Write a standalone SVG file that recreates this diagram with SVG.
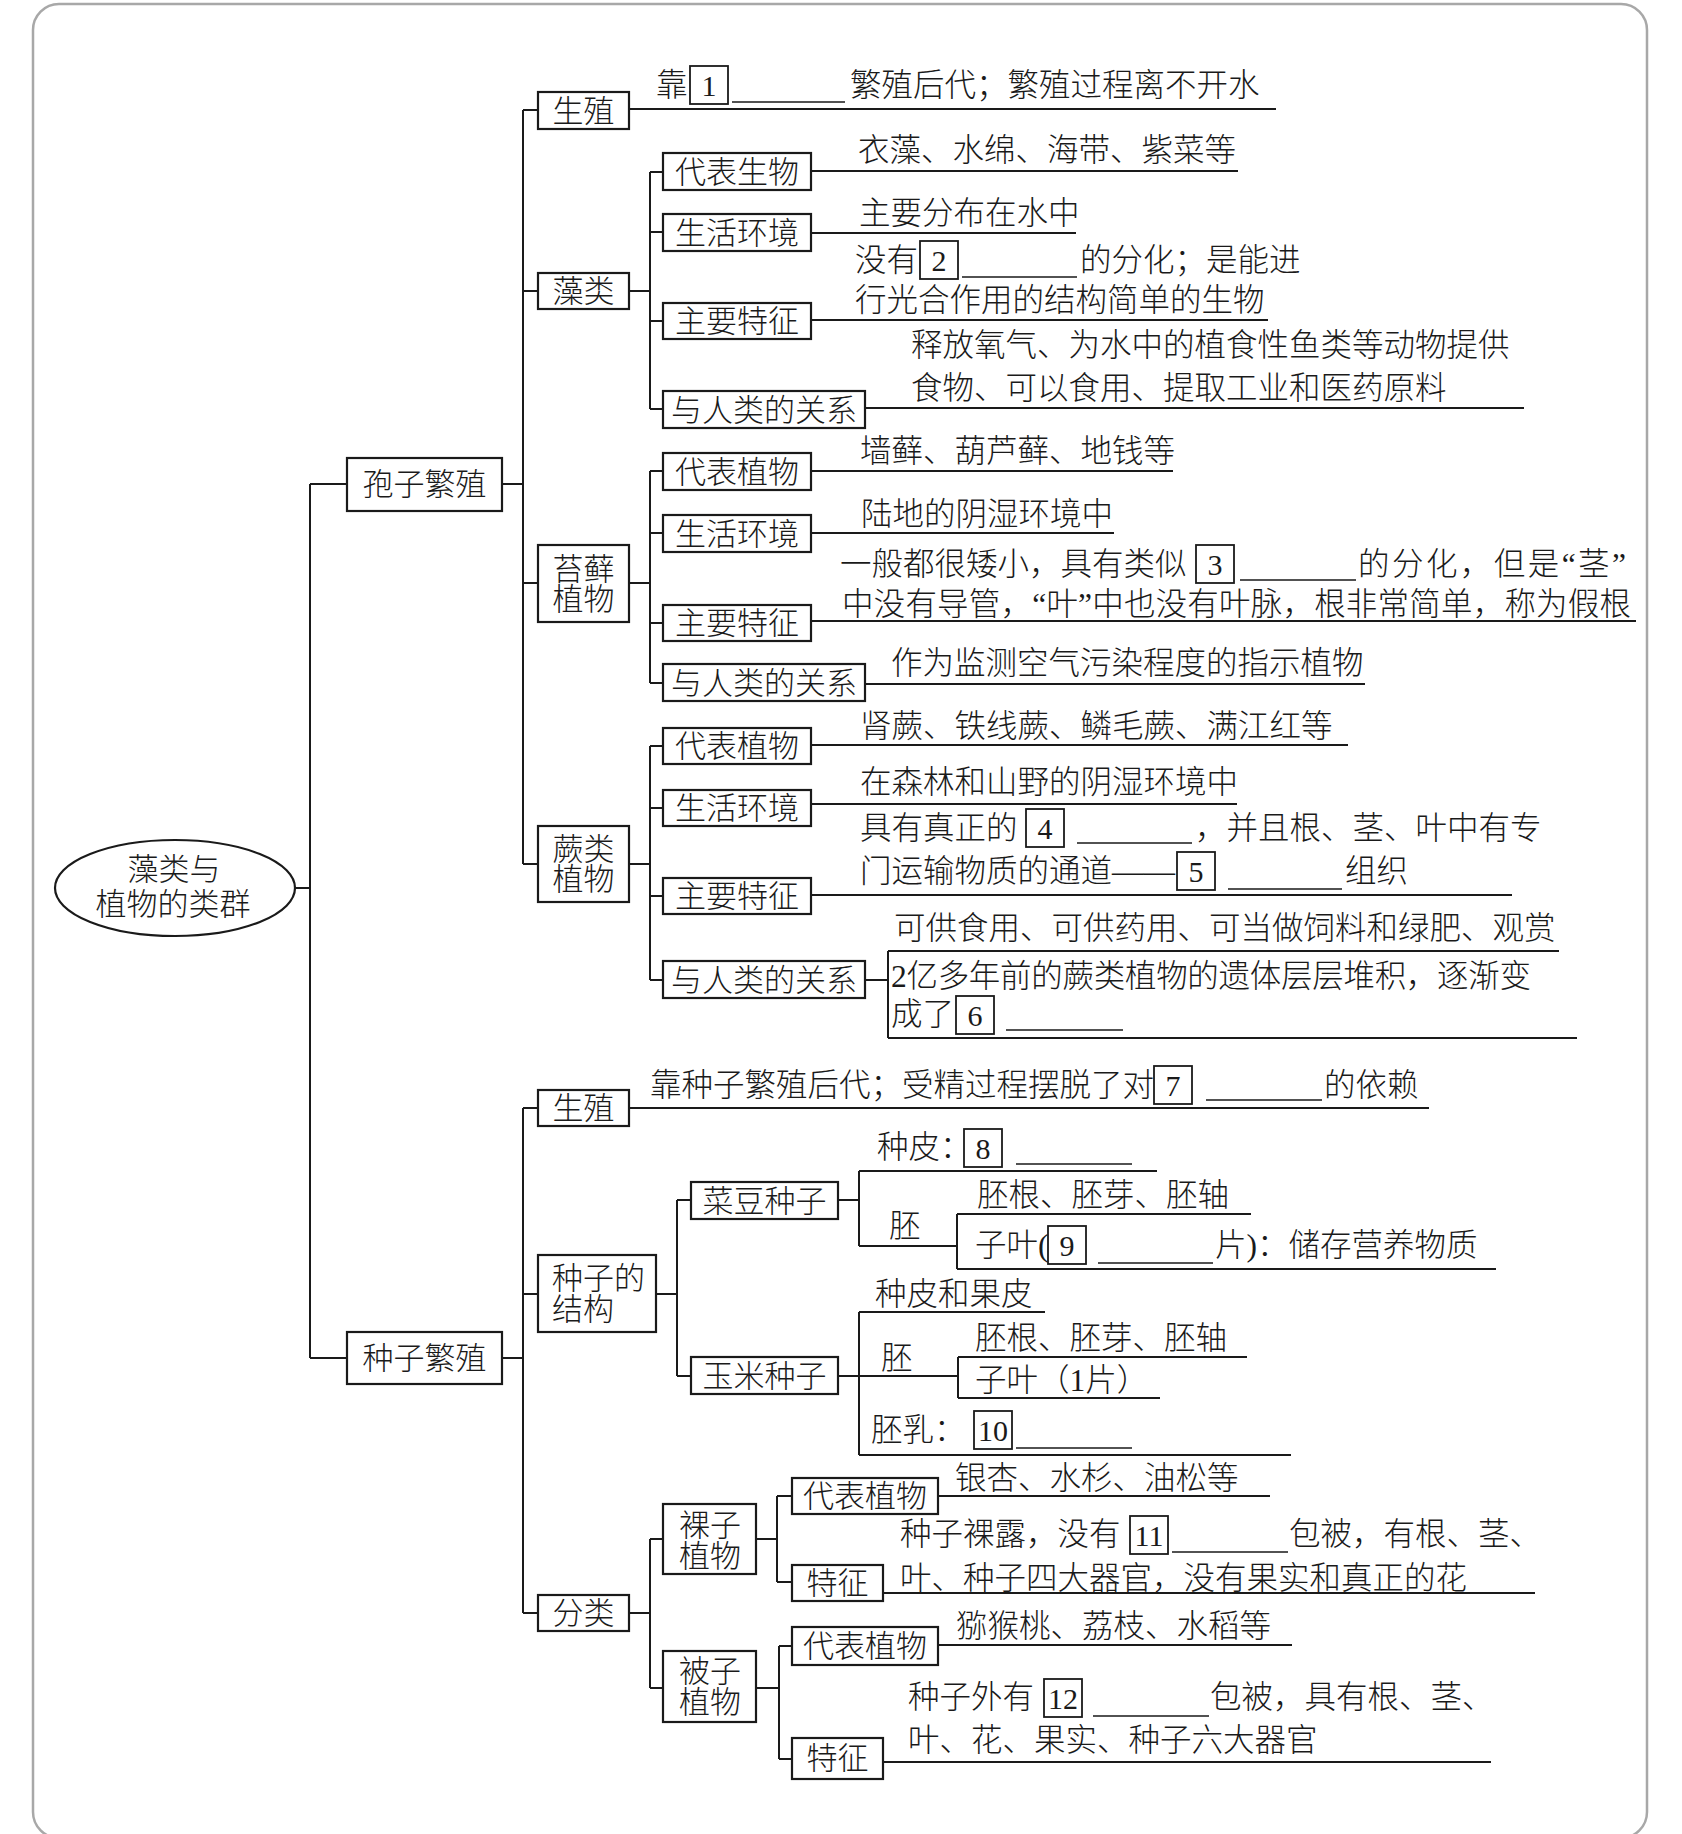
<svg xmlns="http://www.w3.org/2000/svg" width="1682" height="1834" viewBox="0 0 1682 1834">
<style>
.bg{fill:#ffffff}
.frame{fill:none;stroke:#a8a8a8;stroke-width:2.5}
.bx{fill:#ffffff;stroke:#1a1a1a;stroke-width:2.2}
.ln{fill:none;stroke:#1a1a1a;stroke-width:2}
.bl{fill:none;stroke:#1a1a1a;stroke-width:1.5}
.nb{fill:none;stroke:#1a1a1a;stroke-width:1.8}
.lb{font-family:"Liberation Serif","Noto Sans CJK SC",serif;font-size:31px;fill:#1a1a1a;text-anchor:middle;font-weight:300}
.lbl{font-family:"Liberation Serif","Noto Sans CJK SC",serif;font-size:31px;fill:#1a1a1a;font-weight:300}
.t{font-family:"Liberation Serif","Noto Sans CJK SC",serif;font-size:31.5px;fill:#1a1a1a;font-weight:300}
.n{font-family:"Liberation Serif",serif;font-size:30px;fill:#1a1a1a;text-anchor:middle}
</style>
<rect class="bg" x="0" y="0" width="1682" height="1834"/>
<rect class="frame" x="33" y="4" width="1614" height="1834" rx="26"/>

<g id="connectors">
<path class="ln" d="M295,888 H310 M310,484 V1358 M310,484 H347 M310,1358 H347
M502,484 H523 M523,110 V864 M523,110 H538 M523,291 H538 M523,583 H538 M523,864 H538
M629,291 H650 M650,172 V409 M650,172 H663 M650,232 H663 M650,321 H663 M650,409 H663
M629,583 H650 M650,471 V683 M650,471 H663 M650,533 H663 M650,623 H663 M650,683 H663
M629,864 H650 M650,746 V980 M650,746 H663 M650,808 H663 M650,896 H663 M650,980 H663
M502,1358 H523 M523,1108 V1613 M523,1108 H538 M523,1294 H538 M523,1613 H538
M656,1294 H677 M677,1200 V1376 M677,1200 H691 M677,1376 H691
M838,1200 H859 M859,1171 V1246 M859,1171 H1157 M859,1246 H957 M957,1214 V1269 M957,1214 H1251 M957,1269 H1496
M838,1376 H958 M859,1312 V1455 M859,1312 H1045 M859,1455 H1291 M958,1357 V1398 M958,1357 H1247 M958,1398 H1160
M629,1613 H650 M650,1539 V1688 M650,1539 H663 M650,1688 H663
M756,1539 H777 M777,1496 V1582 M777,1496 H792 M777,1582 H792
M756,1688 H779 M779,1646 V1759 M779,1646 H792 M779,1759 H792
M629,109 H1276 M811,171 H1238 M811,233 H1076 M811,320 H1268 M865,408 H1524
M811,471 H1173 M811,533 H1114 M811,621 H1636 M865,684 H1365
M811,745 H1348 M811,804 H1237 M811,895 H1512
M865,980 H888 M888,951 V1038 M888,951 H1559 M888,1038 H1577
M629,1108 H1429 M938,1496 H1270 M883,1593 H1535 M938,1645 H1292 M883,1762 H1491"/>
<path class="bl" d="M732,102 H845 M962,277 H1077 M1240,580 H1356 M1077,843 H1192 M1228,889 H1342 M1006,1030 H1123
M1206,1100 H1322 M1016,1164 H1132 M1098,1263 H1213 M1016,1448 H1132 M1172,1552 H1288 M1093,1716 H1209"/>
</g>

<g id="root">
<ellipse class="bx" cx="175" cy="888" rx="120" ry="48"/>
<text class="lb" x="174" y="880">藻类与<tspan x="173" dy="35">植物的类群</tspan></text>
</g>

<g id="spore"><rect class="bx" x="347" y="458" width="155" height="53"/><text class="lb" x="424.5" y="495">孢子繁殖</text></g>
<g id="seed"><rect class="bx" x="347" y="1332" width="155" height="52"/><text class="lb" x="424.5" y="1369">种子繁殖</text></g>

<g id="spore-repro"><rect class="bx" x="538" y="92" width="91" height="37"/><text class="lb" x="583.5" y="121.5">生殖</text></g>
<g id="algae"><rect class="bx" x="538" y="273" width="91" height="36"/><text class="lb" x="583.5" y="302">藻类</text></g>
<g id="moss"><rect class="bx" x="538" y="545" width="91" height="77"/><text class="lb" x="583.5" y="580">苔藓<tspan x="583.5" dy="30">植物</tspan></text></g>
<g id="fern"><rect class="bx" x="538" y="826" width="91" height="76"/><text class="lb" x="583.5" y="860">蕨类<tspan x="583.5" dy="30">植物</tspan></text></g>

<g id="algae-rep"><rect class="bx" x="663" y="153" width="148" height="37"/><text class="lb" x="737" y="182.5">代表生物</text></g>
<g id="algae-env"><rect class="bx" x="663" y="214" width="148" height="37"/><text class="lb" x="737" y="243.5">生活环境</text></g>
<g id="algae-feat"><rect class="bx" x="663" y="303" width="148" height="36"/><text class="lb" x="737" y="332">主要特征</text></g>
<g id="algae-rel"><rect class="bx" x="663" y="391" width="202" height="37"/><text class="lb" x="764" y="420.5">与人类的关系</text></g>

<g id="moss-rep"><rect class="bx" x="663" y="453" width="148" height="37"/><text class="lb" x="737" y="482.5">代表植物</text></g>
<g id="moss-env"><rect class="bx" x="663" y="515" width="148" height="37"/><text class="lb" x="737" y="544.5">生活环境</text></g>
<g id="moss-feat"><rect class="bx" x="663" y="605" width="148" height="36"/><text class="lb" x="737" y="634">主要特征</text></g>
<g id="moss-rel"><rect class="bx" x="663" y="664" width="202" height="37"/><text class="lb" x="764" y="693.5">与人类的关系</text></g>

<g id="fern-rep"><rect class="bx" x="663" y="728" width="148" height="36"/><text class="lb" x="737" y="757">代表植物</text></g>
<g id="fern-env"><rect class="bx" x="663" y="790" width="148" height="36"/><text class="lb" x="737" y="819">生活环境</text></g>
<g id="fern-feat"><rect class="bx" x="663" y="878" width="148" height="36"/><text class="lb" x="737" y="907">主要特征</text></g>
<g id="fern-rel"><rect class="bx" x="663" y="961" width="202" height="37"/><text class="lb" x="764" y="990.5">与人类的关系</text></g>

<g id="seed-repro"><rect class="bx" x="538" y="1090" width="91" height="36"/><text class="lb" x="583.5" y="1119">生殖</text></g>
<g id="seed-struct"><rect class="bx" x="538" y="1255" width="118" height="77"/><text class="lbl" x="552" y="1289">种子的<tspan x="552" dy="31">结构</tspan></text></g>
<g id="seed-class"><rect class="bx" x="538" y="1595" width="91" height="36"/><text class="lb" x="583.5" y="1624">分类</text></g>

<g id="bean"><rect class="bx" x="691" y="1182" width="147" height="37"/><text class="lb" x="764.5" y="1211.5">菜豆种子</text></g>
<g id="corn"><rect class="bx" x="691" y="1357" width="147" height="37"/><text class="lb" x="764.5" y="1386.5">玉米种子</text></g>
<g id="gymno"><rect class="bx" x="663" y="1504" width="93" height="70"/><text class="lb" x="710" y="1536">裸子<tspan x="710" dy="31">植物</tspan></text></g>
<g id="angio"><rect class="bx" x="663" y="1651" width="93" height="71"/><text class="lb" x="710" y="1682">被子<tspan x="710" dy="31">植物</tspan></text></g>

<g id="gymno-rep"><rect class="bx" x="792" y="1478" width="146" height="36"/><text class="lb" x="865" y="1507">代表植物</text></g>
<g id="gymno-feat"><rect class="bx" x="792" y="1565" width="91" height="36"/><text class="lb" x="837.5" y="1594">特征</text></g>
<g id="angio-rep"><rect class="bx" x="792" y="1627" width="146" height="38"/><text class="lb" x="865" y="1657">代表植物</text></g>
<g id="angio-feat"><rect class="bx" x="792" y="1738" width="91" height="41"/><text class="lb" x="837.5" y="1769">特征</text></g>

<g id="texts">
<text class="t" x="656" y="96">靠</text>
<text class="t" x="850" y="96">繁殖后代；繁殖过程离不开水</text>
<text class="t" x="858" y="161">衣藻、水绵、海带、紫菜等</text>
<text class="t" x="859" y="224">主要分布在水中</text>
<text class="t" x="855" y="271">没有</text>
<text class="t" x="1080" y="271">的分化；是能进</text>
<text class="t" x="855" y="311">行光合作用的结构简单的生物</text>
<text class="t" x="911" y="356">释放氧气、为水中的植食性鱼类等动物提供</text>
<text class="t" x="911" y="399">食物、可以食用、提取工业和医药原料</text>
<text class="t" x="860" y="462">墙藓、葫芦藓、地钱等</text>
<text class="t" x="861" y="525">陆地的阴湿环境中</text>
<text class="t" x="840" y="575">一般都很矮小，具有类似</text>
<text class="t" x="1358" y="575" textLength="268">的分化，但是“茎”</text>
<text class="t" x="842" y="615" textLength="789">中没有导管，“叶”中也没有叶脉，根非常简单，称为假根</text>
<text class="t" x="891" y="674">作为监测空气污染程度的指示植物</text>
<text class="t" x="860" y="737">肾蕨、铁线蕨、鳞毛蕨、满江红等</text>
<text class="t" x="860" y="793">在森林和山野的阴湿环境中</text>
<text class="t" x="860" y="839">具有真正的</text>
<text class="t" x="1195" y="839">，并且根、茎、叶中有专</text>
<text class="t" x="860" y="882">门运输物质的通道——</text>
<text class="t" x="1345" y="882">组织</text>
<text class="t" x="894" y="939">可供食用、可供药用、可当做饲料和绿肥、观赏</text>
<text class="t" x="891" y="987" textLength="640">2亿多年前的蕨类植物的遗体层层堆积，逐渐变</text>
<text class="t" x="891" y="1025">成了</text>
<text class="t" x="650" y="1096">靠种子繁殖后代；受精过程摆脱了对</text>
<text class="t" x="1324" y="1096">的依赖</text>
<text class="t" x="877" y="1158">种皮：</text>
<text class="t" x="889" y="1237">胚</text>
<text class="t" x="977" y="1206">胚根、胚芽、胚轴</text>
<text class="t" x="975" y="1256">子叶(</text>
<text class="t" x="1215" y="1256">片)：储存营养物质</text>
<text class="t" x="875" y="1305">种皮和果皮</text>
<text class="t" x="881" y="1369">胚</text>
<text class="t" x="975" y="1349">胚根、胚芽、胚轴</text>
<text class="t" x="975" y="1391">子叶（1片）</text>
<text class="t" x="871" y="1441">胚乳：</text>
<text class="t" x="955" y="1489">银杏、水杉、油松等</text>
<text class="t" x="900" y="1545">种子裸露，没有</text>
<text class="t" x="1289" y="1545">包被，有根、茎、</text>
<text class="t" x="900" y="1589">叶、种子四大器官，没有果实和真正的花</text>
<text class="t" x="956" y="1637">猕猴桃、荔枝、水稻等</text>
<text class="t" x="908" y="1708">种子外有</text>
<text class="t" x="1210" y="1708">包被，具有根、茎、</text>
<text class="t" x="908" y="1751">叶、花、果实、种子六大器官</text>
</g>

<g id="blanks">
<rect class="nb" x="690" y="66" width="38" height="38"/><text class="n" x="709" y="95.5">1</text>
<rect class="nb" x="920" y="241" width="38" height="38"/><text class="n" x="939" y="270.5">2</text>
<rect class="nb" x="1196" y="545" width="38" height="38"/><text class="n" x="1215" y="574.5">3</text>
<rect class="nb" x="1026" y="809" width="38" height="38"/><text class="n" x="1045" y="838.5">4</text>
<rect class="nb" x="1177" y="852" width="38" height="38"/><text class="n" x="1196" y="881.5">5</text>
<rect class="nb" x="956" y="996" width="38" height="38"/><text class="n" x="975" y="1025.5">6</text>
<rect class="nb" x="1154" y="1066" width="38" height="38"/><text class="n" x="1173" y="1095.5">7</text>
<rect class="nb" x="964" y="1129" width="38" height="38"/><text class="n" x="983" y="1158.5">8</text>
<rect class="nb" x="1048" y="1226" width="38" height="38"/><text class="n" x="1067" y="1255.5">9</text>
<rect class="nb" x="974" y="1411" width="38" height="38"/><text class="n" x="993" y="1440.5">10</text>
<rect class="nb" x="1130" y="1516" width="38" height="38"/><text class="n" x="1149" y="1545.5">11</text>
<rect class="nb" x="1044" y="1679" width="38" height="38"/><text class="n" x="1063" y="1708.5">12</text>
</g>
</svg>
